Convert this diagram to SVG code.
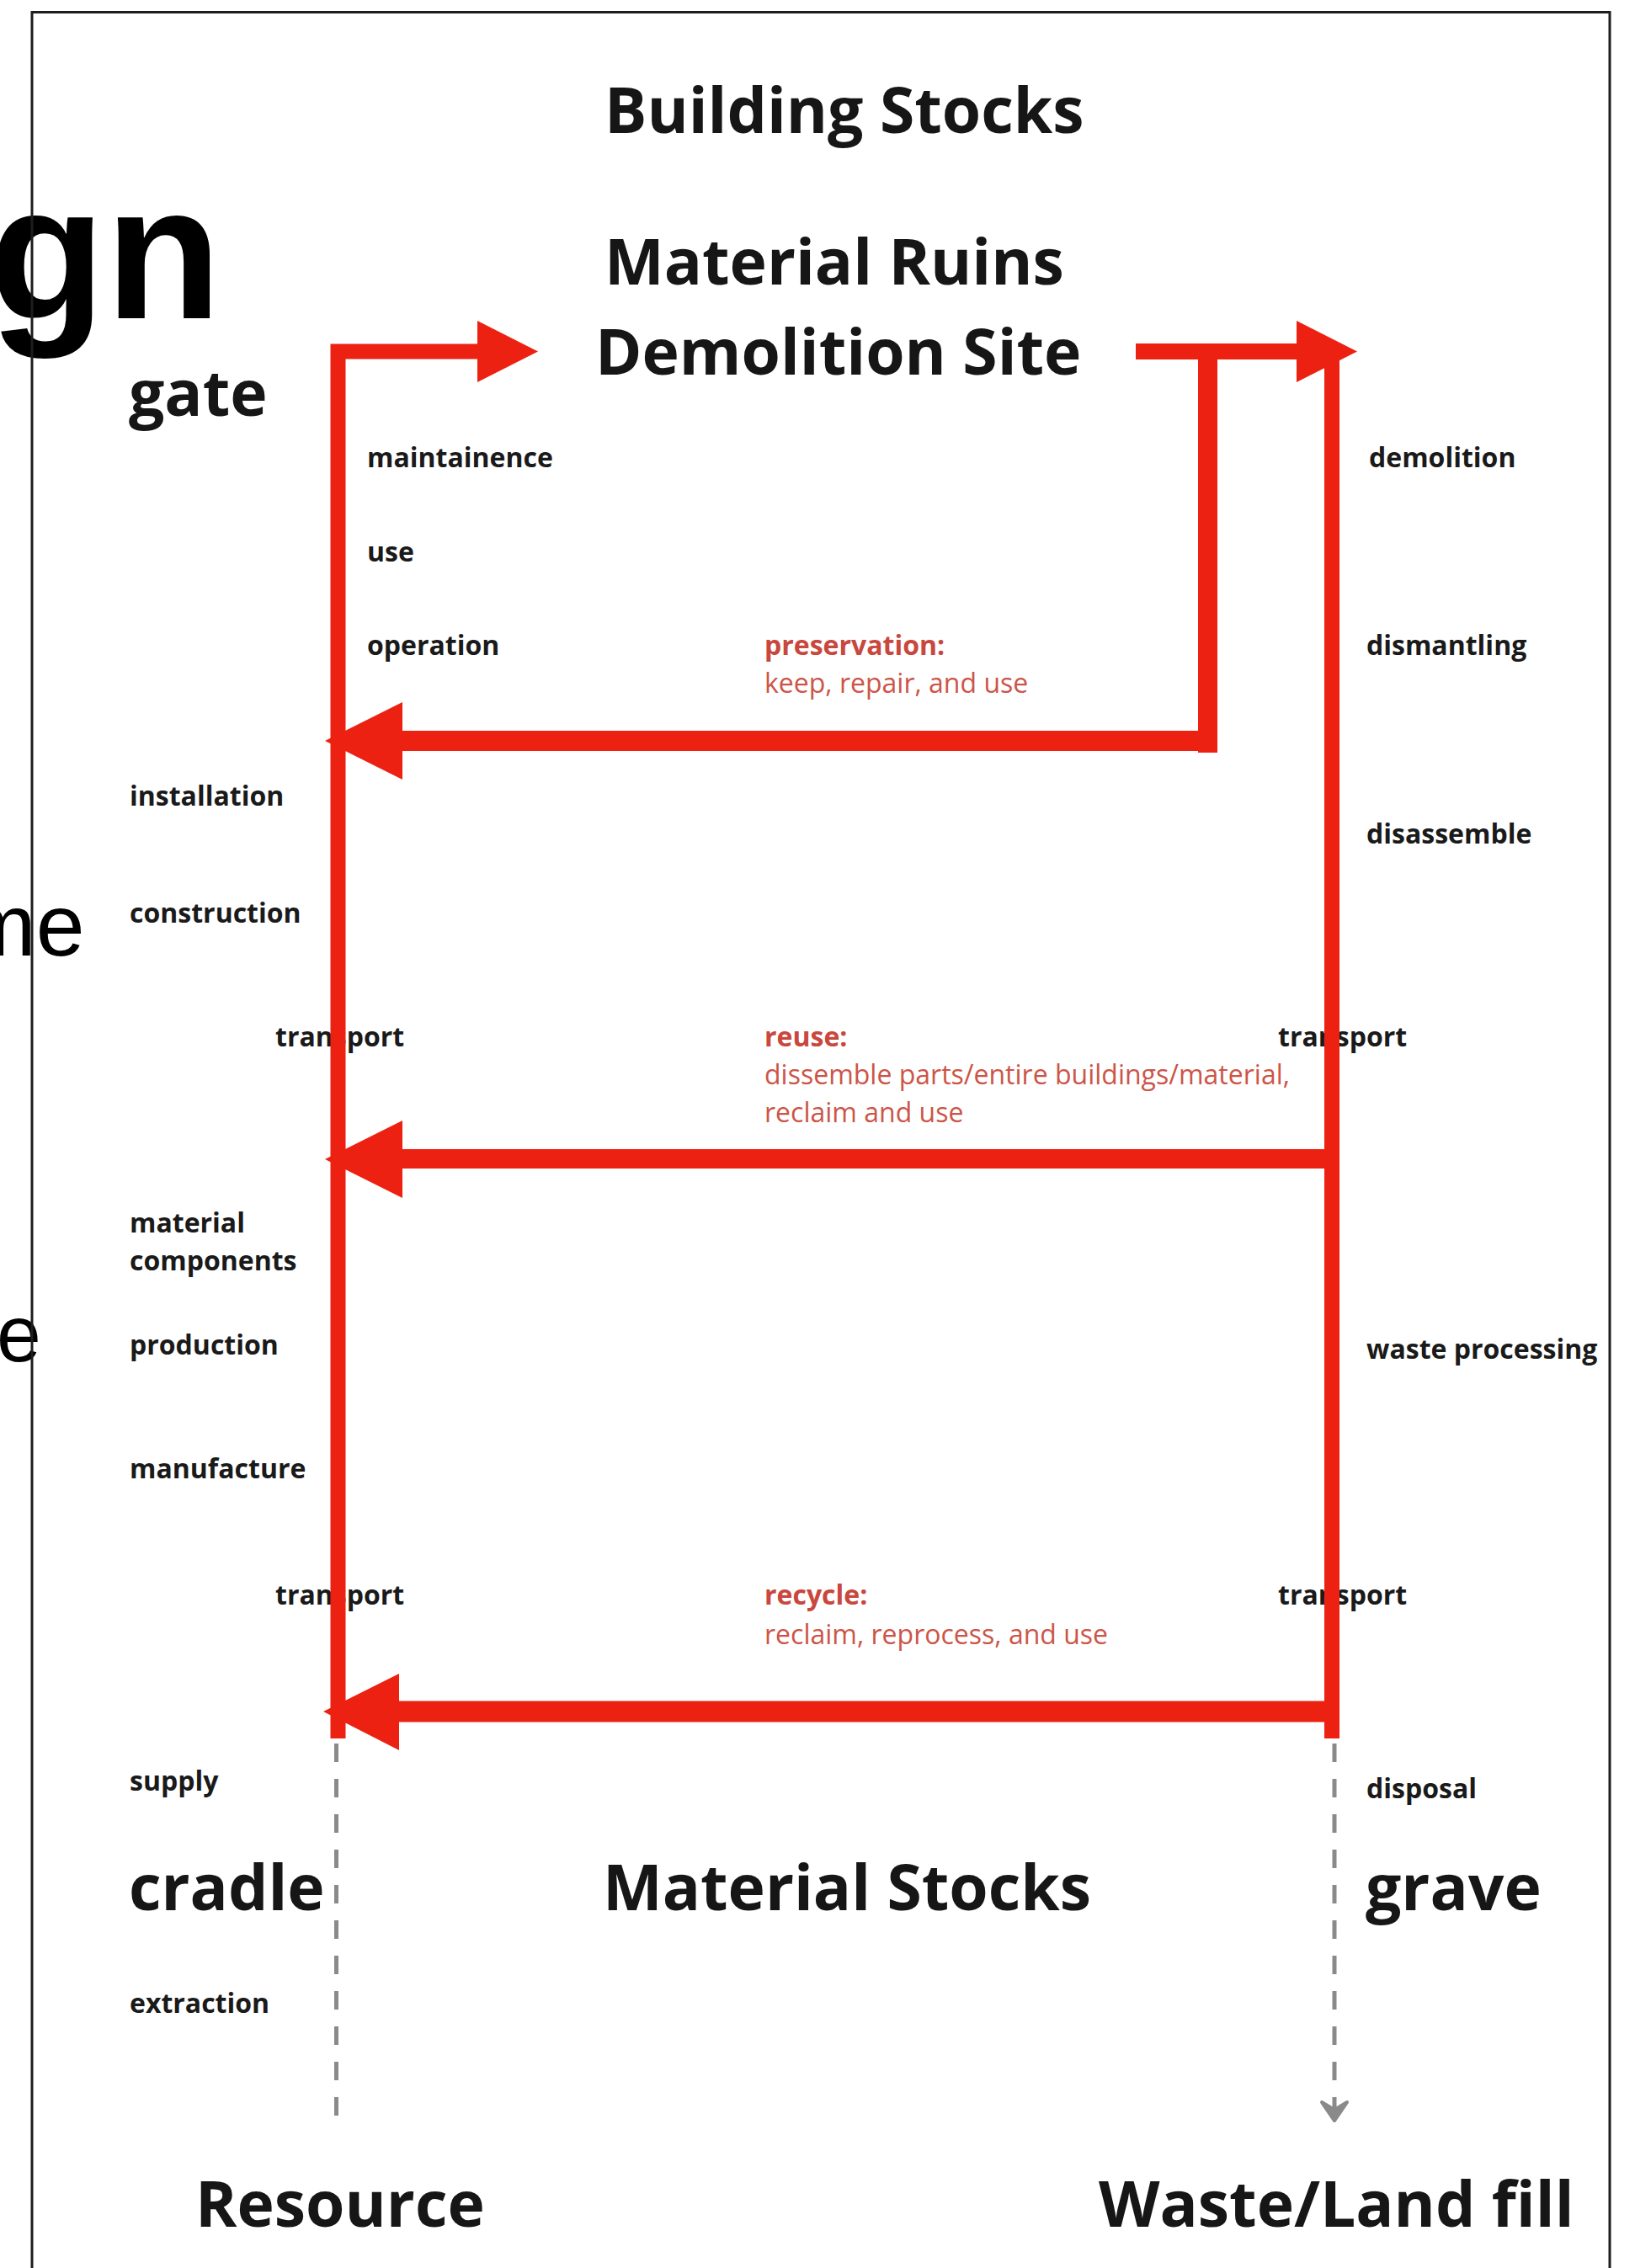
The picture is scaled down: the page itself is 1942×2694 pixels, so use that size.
<svg xmlns="http://www.w3.org/2000/svg" width="1942" height="2694" viewBox="0 0 1942 2694">
<style>
.big{font-family:"Open Sans","Liberation Sans",sans-serif;font-weight:700;font-size:75px;fill:#161616}
.lbl{font-family:"Open Sans","Liberation Sans",sans-serif;font-weight:700;font-size:32px;fill:#1a1a1a}
.rh{font-family:"Open Sans","Liberation Sans",sans-serif;font-weight:700;font-size:32px;fill:#c9473d}
.rd{font-family:"Open Sans","Liberation Sans",sans-serif;font-weight:400;font-size:32px;fill:#cc5548}
.cut{font-family:"Liberation Sans",Arial,sans-serif;fill:#000}
.red{stroke:#ec2111;fill:none}
.redf{fill:#ec2111}
.dash{stroke:#8a8a8a;stroke-width:5;stroke-dasharray:22 20;fill:none}
</style>
<rect width="1942" height="2694" fill="#fff"/>
<g id="cut-text">
<text class="cut" x="-13" y="378" font-size="226" font-weight="700">gn</text>
<text class="cut" x="-44" y="1135" font-size="104">me</text>
<text class="cut" x="-4" y="1617" font-size="95">e</text>
</g>
<path id="frame" d="M38 2694 V14.5 H1912 V2694" fill="none" stroke="#1e1e1e" stroke-width="3"/>
<g id="titles">
<text id="building-stocks" class="big" x="718" y="158" font-size="74">Building Stocks</text>
<text id="material-ruins" class="big" x="718" y="338">Material Ruins</text>
<text id="demolition-site" class="big" x="707" y="445">Demolition Site</text>
<text id="gate" class="big" x="153" y="494">gate</text>
<text id="cradle" class="big" x="153" y="2269">cradle</text>
<text id="material-stocks" class="big" x="716" y="2269">Material Stocks</text>
<text id="grave" class="big" x="1622" y="2269">grave</text>
<text id="resource" class="big" x="232" y="2645">Resource</text>
<text id="waste" class="big" x="1305" y="2645">Waste/Land fill</text>
</g>
<g id="left-labels">
<text class="lbl" x="436" y="555">maintainence</text>
<text class="lbl" x="436" y="667">use</text>
<text class="lbl" x="436" y="778">operation</text>
<text class="lbl" x="154" y="957">installation</text>
<text class="lbl" x="154" y="1096">construction</text>
<text class="lbl" x="327" y="1243">transport</text>
<text class="lbl" x="154" y="1464">material</text>
<text class="lbl" x="154" y="1509">components</text>
<text class="lbl" x="154" y="1609">production</text>
<text class="lbl" x="154" y="1756">manufacture</text>
<text class="lbl" x="327" y="1906">transport</text>
<text class="lbl" x="154" y="2127">supply</text>
<text class="lbl" x="154" y="2391">extraction</text>
</g>
<g id="right-labels">
<text class="lbl" x="1626" y="555">demolition</text>
<text class="lbl" x="1623" y="778">dismantling</text>
<text class="lbl" x="1623" y="1002">disassemble</text>
<text class="lbl" x="1518" y="1243">transport</text>
<text class="lbl" x="1623" y="1614">waste processing</text>
<text class="lbl" x="1518" y="1906">transport</text>
<text class="lbl" x="1623" y="2136">disposal</text>
</g>
<g id="loop-labels">
<g id="preservation">
<text class="rh" x="908" y="778">preservation:</text>
<text class="rd" x="908" y="823">keep, repair, and use</text>
</g>
<g id="reuse">
<text class="rh" x="908" y="1243">reuse:</text>
<text class="rd" x="908" y="1288">dissemble parts/entire buildings/material,</text>
<text class="rd" x="908" y="1333">reclaim and use</text>
</g>
<g id="recycle">
<text class="rh" x="908" y="1906">recycle:</text>
<text class="rd" x="908" y="1953">reclaim, reprocess, and use</text>
</g>
</g>
<g id="connectors">
<path class="red" stroke-width="18" d="M401.5 2065 V417.5 H570"/>
<polygon class="redf" points="567,381 639,417.5 567,454"/>
<path class="red" stroke-width="19" d="M1349 417.5 H1542"/>
<polygon class="redf" points="1540,381 1612,417.5 1540,454"/>
<path class="red" stroke-width="18" d="M1582 412 V2065"/>
<path class="red" stroke-width="23" d="M1434.5 417.5 V894"/>
<path class="red" stroke-width="24" d="M476 880 H1446"/>
<polygon class="redf" points="478,834 386,880 478,926"/>
<path class="red" stroke-width="23" d="M476 1376.5 H1591"/>
<polygon class="redf" points="478,1331 386,1377 478,1423"/>
<path class="red" stroke-width="25" d="M471 2033 H1591"/>
<polygon class="redf" points="474,1988 384,2033 474,2079"/>
<path class="dash" d="M399.5 2071 V2515"/>
<path class="dash" d="M1585 2071 V2510"/>
<path d="M1570 2497 L1585 2519 L1600 2497 L1585 2506 Z" fill="#8a8a8a" stroke="#8a8a8a" stroke-width="4" stroke-linejoin="round"/>
</g>
</svg>
